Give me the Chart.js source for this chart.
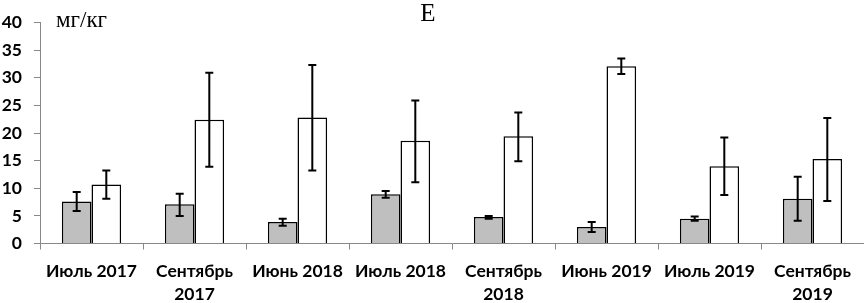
<!DOCTYPE html>
<html><head><meta charset="utf-8">
<script src="https://cdn.jsdelivr.net/npm/chart.js@4/dist/chart.umd.min.js"></script>
<style>html,body{margin:0;padding:0;background:#fff}#wrap{width:864px;height:303px;position:relative}</style>
</head><body><div id="wrap"><canvas id="c" width="864" height="303"></canvas></div>
<script>
const categories = [["Июль 2017"],["Сентябрь","2017"],["Июнь 2018"],["Июль 2018"],["Сентябрь","2018"],["Июнь 2019"],["Июль 2019"],["Сентябрь","2019"]];
const seriesA = [7.6, 7.1, 3.9, 8.9, 4.8, 3.0, 4.5, 8.1];
const seriesAHigh = [9.3, 9.0, 4.5, 9.5, 5.0, 3.9, 4.9, 12.1];
const seriesALow = [5.9, 5.0, 3.2, 8.3, 4.5, 2.1, 4.1, 4.1];
const seriesB = [10.7, 22.4, 22.8, 18.6, 19.4, 32.1, 14.0, 15.3];
const seriesBHigh = [13.2, 30.9, 32.3, 25.9, 23.7, 33.5, 19.2, 22.7];
const seriesBLow = [8.1, 13.9, 13.2, 11.1, 14.9, 30.7, 8.8, 7.7];
const yTicks = [0,5,10,15,20,25,30,35,40];
const titleText = "E";
const unitText = "мг/кг";

const errorBars = {
  id: 'errorBars',
  afterDatasetsDraw(chart) {
    const ctx = chart.ctx, y = chart.scales.y;
    chart.data.datasets.forEach((ds, di) => {
      const meta = chart.getDatasetMeta(di);
      meta.data.forEach((el, i) => {
        const x = el.x, yh = y.getPixelForValue(ds.errHigh[i]), yl = y.getPixelForValue(ds.errLow[i]);
        ctx.save();
        ctx.strokeStyle = '#000'; ctx.lineWidth = 2;
        ctx.beginPath();
        ctx.moveTo(x, yh); ctx.lineTo(x, yl);
        ctx.moveTo(x-4, yh); ctx.lineTo(x+4, yh);
        ctx.moveTo(x-4, yl); ctx.lineTo(x+4, yl);
        ctx.stroke();
        ctx.restore();
      });
    });
  }
};
const labelsPlugin = {
  id: 'labelsPlugin',
  afterDraw(chart) {
    const ctx = chart.ctx;
    ctx.save();
    ctx.fillStyle = '#000';
    ctx.textBaseline = 'alphabetic';
    ctx.font = '25px "Liberation Serif"';
    ctx.textAlign = 'center';
    ctx.fillText(titleText, 428, 21);
    ctx.font = '23px "Liberation Serif"';
    ctx.textAlign = 'left';
    ctx.fillText(unitText, 56, 27);
    ctx.restore();
  }
};

new Chart(document.getElementById('c'), {
  type: 'bar',
  data: {
    labels: categories,
    datasets: [
      {data: seriesA, errHigh: seriesAHigh, errLow: seriesALow, backgroundColor: '#BFBFBF', borderColor: '#000', borderWidth: 1.5, categoryPercentage: 0.575, barPercentage: 1.0},
      {data: seriesB, errHigh: seriesBHigh, errLow: seriesBLow, backgroundColor: '#FFFFFF', borderColor: '#000', borderWidth: 1.5, categoryPercentage: 0.575, barPercentage: 1.0}
    ]
  },
  options: {
    responsive: false,
    animation: false,
    layout: {padding: {top: 15, right: 0, left: 0, bottom: 0}},
    plugins: {legend: {display: false}, tooltip: {enabled: false}},
    scales: {
      x: {
        grid: {display: true, drawOnChartArea: false, drawTicks: true, tickLength: 6, color: '#888', offset: true},
        border: {display: true, color: '#888', width: 1},
        ticks: {color: '#000', font: {family: 'Lato', weight: 'bold', size: 17.5, lineHeight: 1.32}, maxRotation: 0, autoSkip: false, padding: 10},
        afterFit(s) { s.height = 59.5; }
      },
      y: {
        min: 0, max: 40,
        afterBuildTicks(s) { s.ticks = yTicks.map(v => ({value: v})); },
        grid: {display: true, drawOnChartArea: false, drawTicks: true, tickLength: 6, color: '#888'},
        border: {display: true, color: '#888', width: 1},
        ticks: {color: '#000', font: {family: 'Lato', weight: 'bold', size: 17.5}, padding: 12},
        afterFit(s) { s.width = 40; }
      }
    }
  },
  plugins: [errorBars, labelsPlugin]
});
</script></body></html>
